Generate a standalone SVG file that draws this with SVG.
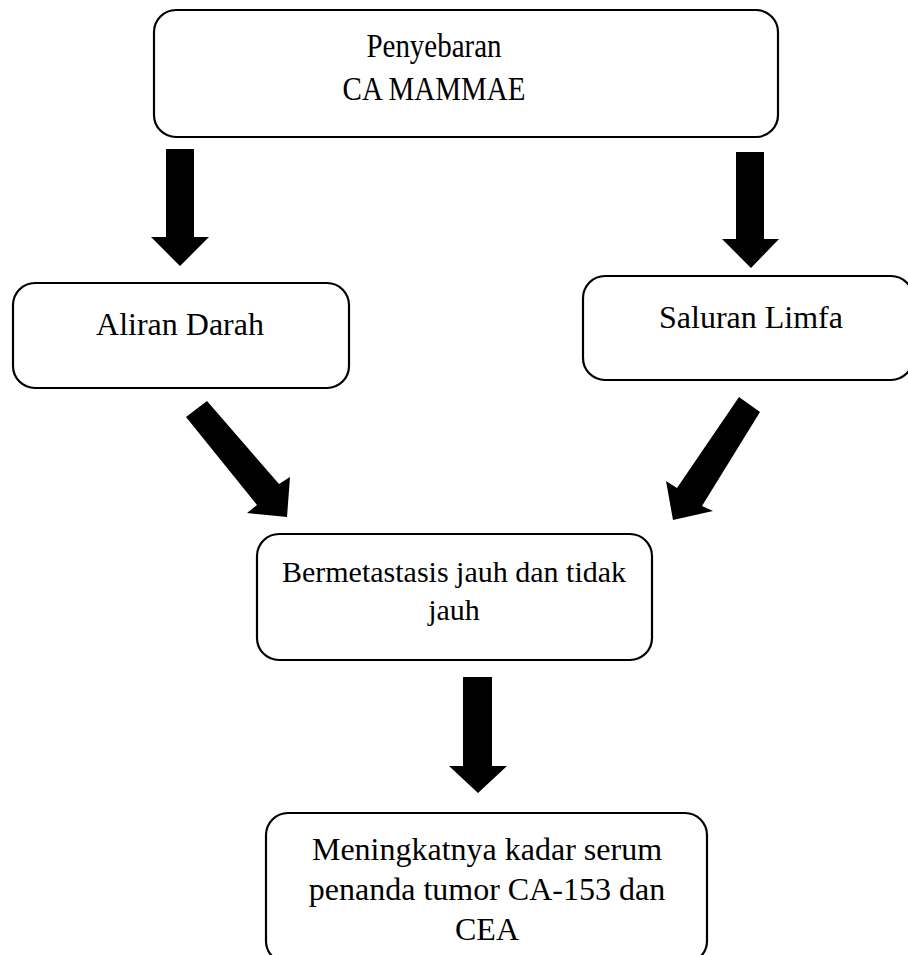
<svg xmlns="http://www.w3.org/2000/svg" width="908" height="955" viewBox="0 0 908 955">
<style>
.box{fill:#fff;stroke:#000;stroke-width:2.2}
.t{font-family:"Liberation Serif","Times New Roman",serif;fill:#000;text-anchor:middle}
.arr{fill:#000}
</style>
<rect width="908" height="955" fill="#fff"/>
<g id="connectors">
<polygon class="arr" points="166,149 194,149 194,237 209,237 180,266 151,237 166,237"/>
<polygon class="arr" points="736,152 764,152 764,239 779,239 751,268 722,239 736,239"/>
<polygon class="arr" points="186,417 207,401 279,484 290,477 287,517 247,513 257,505"/>
<polygon class="arr" points="739,397 760,412 702,506 713,511 673,520 666,481 677,488"/>
<polygon class="arr" points="463,677 492,677 492,766 507,766 478,793 449,766 463,766"/>
</g>
<g id="node-penyebaran">
<rect class="box" x="154" y="10" width="624" height="127" rx="22"/>
<text class="t" transform="translate(434,57) scale(1,1.17)" font-size="29">Penyebaran</text>
<text class="t" transform="translate(434,100) scale(1,1.17)" font-size="29">CA MAMMAE</text>
</g>
<g id="node-aliran">
<rect class="box" x="13" y="283" width="336" height="105" rx="22"/>
<text class="t" x="180" y="335" font-size="32">Aliran Darah</text>
</g>
<g id="node-saluran">
<rect class="box" x="583" y="276" width="330" height="104" rx="22"/>
<text class="t" x="751" y="328" font-size="32">Saluran Limfa</text>
</g>
<g id="node-metastasis">
<rect class="box" x="257" y="534" width="395" height="126" rx="22"/>
<text class="t" x="454" y="582" font-size="30">Bermetastasis jauh dan tidak</text>
<text class="t" x="454" y="620" font-size="30">jauh</text>
</g>
<g id="node-serum">
<rect class="box" x="266" y="813" width="441" height="150" rx="22"/>
<text class="t" x="487" y="860" font-size="32">Meningkatnya kadar serum</text>
<text class="t" x="487" y="900" font-size="32">penanda tumor CA-153 dan</text>
<text class="t" x="487" y="940" font-size="32">CEA</text>
</g>
</svg>
